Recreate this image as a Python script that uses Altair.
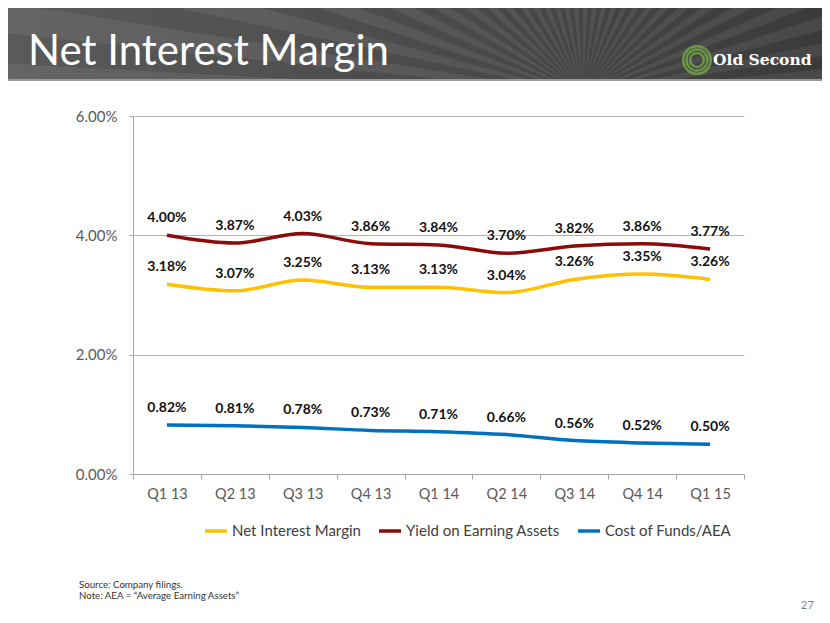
import altair as alt
import pandas as pd
import math

quarters = ["Q1 13", "Q2 13", "Q3 13", "Q4 13", "Q1 14", "Q2 14", "Q3 14", "Q4 14", "Q1 15"]
nim = [3.18, 3.07, 3.25, 3.13, 3.13, 3.04, 3.26, 3.35, 3.26]
yield_ea = [4.00, 3.87, 4.03, 3.86, 3.84, 3.70, 3.82, 3.86, 3.77]
cost_funds = [0.82, 0.81, 0.78, 0.73, 0.71, 0.66, 0.56, 0.52, 0.50]
series_names = ["Net Interest Margin", "Yield on Earning Assets", "Cost of Funds/AEA"]
series_colors = ["#FFC000", "#8B0A0A", "#0070C0"]
y_ticks = [0, 2, 4, 6]

rows = []
for name, vals in zip(series_names, [nim, yield_ea, cost_funds]):
    for q, v in zip(quarters, vals):
        rows.append({"quarter": q, "series": name, "value": v,
                     "label": f"{v:.2f}%"})
df = pd.DataFrame(rows)

FONT = "Lato"
W, H = 611, 358

x_enc = alt.X("quarter:N", sort=quarters, bandPosition=0.5,
              scale=alt.Scale(type="band", paddingInner=0, paddingOuter=0),
              axis=alt.Axis(title=None, labelAngle=0, tickBand="extent", tickSize=5,
                            tickColor="#a6a6a6", domainColor="#a6a6a6",
                            labelFont=FONT, labelFontSize=14.5, labelColor="#595959",
                            labelPadding=8, grid=False))
y_enc = alt.Y("value:Q", scale=alt.Scale(domain=[0, 6], nice=False),
              axis=alt.Axis(title=None, values=y_ticks,
                            labelExpr="format(datum.value, '.2f') + '%'",
                            grid=True, gridColor="#b3b3b3", domainColor="#a6a6a6",
                            tickColor="#a6a6a6", tickSize=4, labelPadding=12,
                            labelFont=FONT, labelFontSize=15, labelColor="#595959"))

base = alt.Chart(df)
lines = base.mark_line(strokeWidth=3.5, interpolate="monotone").encode(
    x=x_enc, y=y_enc,
    color=alt.Color("series:N", sort=series_names,
                    scale=alt.Scale(domain=series_names, range=series_colors),
                    legend=alt.Legend(orient="none", legendX=70, legendY=402,
                                      direction="horizontal", title=None,
                                      symbolType="stroke", symbolStrokeWidth=3.5,
                                      symbolSize=484, labelFont=FONT, labelFontSize=15,
                                      labelColor="#404040", columnPadding=11,
                                      labelOffset=3)),
)
labels = base.mark_text(dy=-17, fontSize=14, fontWeight="bold", font=FONT,
                        color="#111111").encode(
    x=alt.X("quarter:N", sort=quarters, bandPosition=0.5),
    y="value:Q", text="label:N")

# ---- decorative header (pixel positions relative to plot origin) ----
ann = pd.DataFrame({"k": [0]})
HX0, HX1, HY0, HY1 = -130, 700, -110, -37   # header rectangle
CX, CY = 450, -22                            # ray convergence point


def inter(a, b, edge_fn):
    lo, hi = 0.0, 1.0
    for _ in range(40):
        m = (lo + hi) / 2
        p = (a[0] + (b[0] - a[0]) * m, a[1] + (b[1] - a[1]) * m)
        if edge_fn(p) == edge_fn(a):
            lo = m
        else:
            hi = m
    return (a[0] + (b[0] - a[0]) * lo, a[1] + (b[1] - a[1]) * lo)


def clip(poly, edge_fn):
    out = []
    for i in range(len(poly)):
        a, b = poly[i - 1], poly[i]
        ina, inb = edge_fn(a), edge_fn(b)
        if inb:
            if not ina:
                out.append(inter(a, b, edge_fn))
            out.append(b)
        elif ina:
            out.append(inter(a, b, edge_fn))
    return out


ray_path = []
R = 3000
for k in range(30):
    a0 = math.radians(180 + k * 6.0)
    a1 = a0 + math.radians(3.0)
    tri = [(CX, CY), (CX + R * math.cos(a0), CY + R * math.sin(a0)),
           (CX + R * math.cos(a1), CY + R * math.sin(a1))]
    for fn in (lambda p: p[0] >= HX0, lambda p: p[0] <= HX1,
               lambda p: p[1] >= HY0, lambda p: p[1] <= HY1):
        tri = clip(tri, fn)
        if not tri:
            break
    if len(tri) >= 3:
        S = 1000.0
        pts = [f"{(x - CX) / S:.5f},{(y - CY) / S:.5f}" for x, y in tri]
        ray_path.append("M" + "L".join(pts) + "Z")
ray_shape = "".join(ray_path)

header = alt.Chart(ann).mark_rect(
    fill=alt.Gradient(gradient="linear", x1=0, x2=1, y1=0, y2=0,
                      stops=[alt.GradientStop(color="#5a5a5a", offset=0),
                             alt.GradientStop(color="#4a4a4a", offset=0.55),
                             alt.GradientStop(color="#3a3a3a", offset=1)])
).encode(x=alt.value(HX0), x2=alt.value(HX1), y=alt.value(HY0), y2=alt.value(HY1))
rays = alt.Chart(ann).mark_point(shape=ray_shape, filled=True, fill="#ffffff",
                                 fillOpacity=0.07, strokeWidth=0, size=4000000).encode(
    x=alt.value(CX), y=alt.value(CY))
header_line = alt.Chart(ann).mark_rect(color="#9a9a9a").encode(
    x=alt.value(HX0), x2=alt.value(HX1), y=alt.value(-37), y2=alt.value(-35))
title = alt.Chart(ann).mark_text(text="Net Interest Margin", font=FONT, fontSize=42,
                                 color="white", align="left", baseline="alphabetic").encode(
    x=alt.value(-105), y=alt.value(-51))
logo_text = alt.Chart(ann).mark_text(text="Old Second", font="DejaVu Serif", fontSize=15.5,
                                     fontWeight="bold", color="white", align="left",
                                     baseline="alphabetic").encode(
    x=alt.value(580), y=alt.value(-51))
logo_rings = alt.Chart(pd.DataFrame({"s": [760, 440, 190]})).mark_point(
    shape="circle", filled=False, color="#7ab648", strokeWidth=2.5).encode(
    x=alt.value(564), y=alt.value(-56), size=alt.Size("s:Q", scale=None, legend=None))
source = alt.Chart(ann).mark_text(text=["Source: Company filings.",
                                        "Note: AEA = \u201cAverage Earning Assets\u201d"],
                                  font=FONT, fontSize=9.7, lineHeight=11, color="#333333",
                                  align="left", baseline="middle").encode(
    x=alt.value(79 - 133), y=alt.value(585 - 116))
page = alt.Chart(ann).mark_text(text="27", font=FONT, fontSize=11, color="#7f7f7f",
                                align="left", baseline="middle").encode(
    x=alt.value(801 - 133), y=alt.value(606 - 116))

chart = alt.layer(header, rays, header_line, title, logo_rings, logo_text,
                  lines, labels, source, page).properties(
    width=W, height=H,
    autosize=alt.AutoSizeParams(type="none"),
    padding={"left": 125, "top": 108, "right": 78, "bottom": 141},
).configure_view(stroke=None)

chart.save("out.html", embed_options={"renderer": "svg", "actions": False})
